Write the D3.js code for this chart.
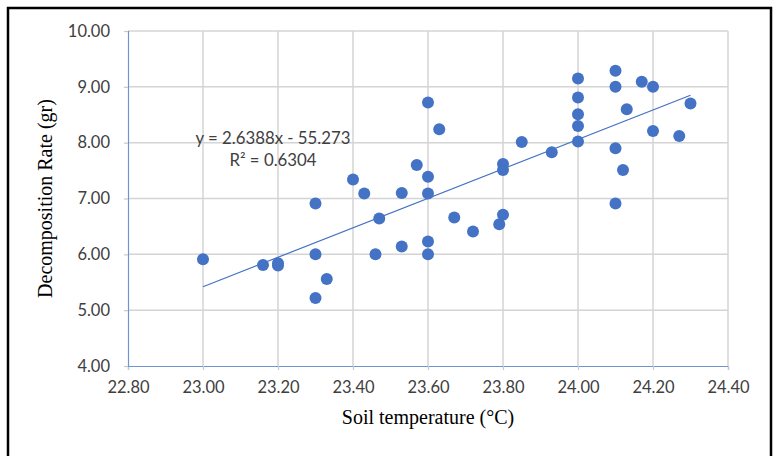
<!DOCTYPE html>
<html>
<head>
<meta charset="utf-8">
<script src="https://cdn.jsdelivr.net/npm/d3@7"></script>
<style>
  body { margin: 0; background: #fff; }
  svg { display: block; }
</style>
</head>
<body>
<svg id="chart" width="775" height="456"></svg>
<script>
// Soil temperature (°C) of each sample
const soilTemp = [
  23.00, 23.16, 23.20, 23.20, 23.30, 23.30, 23.33, 23.30, 23.40, 23.43,
  23.46, 23.47, 23.53, 23.53, 23.57, 23.60, 23.60, 23.60, 23.60, 23.60,
  23.63, 23.67, 23.72, 23.79, 23.80, 23.80, 23.80, 23.85, 23.93, 24.00,
  24.00, 24.00, 24.00, 24.00, 24.10, 24.10, 24.10, 24.10, 24.12, 24.13,
  24.17, 24.20, 24.20, 24.27, 24.30
];
// Decomposition rate (gr) of each sample
const decompRate = [
  5.91, 5.81, 5.84, 5.80, 6.91, 6.00, 5.56, 5.22, 7.34, 7.09,
  6.00, 6.64, 7.10, 6.14, 7.60, 8.72, 7.39, 7.09, 6.23, 6.00,
  8.24, 6.66, 6.41, 6.54, 6.71, 7.62, 7.51, 8.01, 7.83, 9.15,
  8.81, 8.51, 8.30, 8.02, 9.29, 9.00, 7.90, 6.91, 7.51, 8.60,
  9.09, 9.00, 8.21, 8.12, 8.70
];
const xTicks = [22.8, 23.0, 23.2, 23.4, 23.6, 23.8, 24.0, 24.2, 24.4];
const yTicks = [4, 5, 6, 7, 8, 9, 10];

// Linear trendline: y = slope * x + intercept
const slope = 2.6388;
const intercept = -55.273;
const rSquared = 0.6304;

const svg = d3.select("#chart");
const blue = "#4472C4";
const tickFont = "Lato, 'Open Sans', sans-serif";
const titleFont = "'Liberation Serif', 'Times New Roman', serif";

const plot = { left: 128, right: 728, top: 31, bottom: 366 };

const x = d3.scaleLinear().domain([22.8, 24.4]).range([plot.left, plot.right]);
const y = d3.scaleLinear().domain([4, 10]).range([plot.bottom, plot.top]);

// outer frame
svg.append("rect")
  .attr("x", 8).attr("y", 8)
  .attr("width", 763).attr("height", 470)
  .attr("fill", "none").attr("stroke", "#000").attr("stroke-width", 2.5);

// gridlines
const grid = svg.append("g").attr("stroke", "#d4d4d4").attr("stroke-width", 1.5);
grid.selectAll("line.v").data(xTicks.slice(1)).join("line")
  .attr("x1", d => x(d)).attr("x2", d => x(d))
  .attr("y1", plot.top).attr("y2", plot.bottom);
grid.selectAll("line.h").data(yTicks.slice(1)).join("line")
  .attr("x1", plot.left).attr("x2", plot.right)
  .attr("y1", d => y(d)).attr("y2", d => y(d));

// axes
const xAxis = d3.axisBottom(x).tickValues(xTicks).tickFormat(d3.format(".2f"))
  .tickSize(4).tickPadding(11);
const yAxis = d3.axisLeft(y).tickValues(yTicks).tickFormat(d3.format(".2f"))
  .tickSize(4).tickPadding(14);

const gx = svg.append("g").attr("transform", `translate(0,${plot.bottom})`).call(xAxis);
const gy = svg.append("g").attr("transform", `translate(${plot.left},0)`).call(yAxis);

[gx, gy].forEach(g => {
  g.select(".domain").attr("stroke", "#6f94d2").attr("stroke-width", 1.2);
  g.selectAll(".tick line").attr("stroke", "#c8c8c8").attr("stroke-width", 1.2);
  g.selectAll(".tick text")
    .attr("fill", "#404040")
    .style("font-family", tickFont)
    .style("font-size", "16.5px");
});

// trendline across the observed temperature range
const [xMin, xMax] = d3.extent(soilTemp);
svg.append("line")
  .attr("x1", x(xMin)).attr("y1", y(slope * xMin + intercept))
  .attr("x2", x(xMax)).attr("y2", y(slope * xMax + intercept))
  .attr("stroke", blue).attr("stroke-width", 1.2);

// samples
svg.append("g").selectAll("circle")
  .data(soilTemp.map((t, i) => [t, decompRate[i]]))
  .join("circle")
  .attr("cx", d => x(d[0]))
  .attr("cy", d => y(d[1]))
  .attr("r", 6)
  .attr("fill", blue);

// trendline equation
const eq = svg.append("g")
  .style("font-family", tickFont)
  .style("font-size", "16.8px")
  .attr("fill", "#404040")
  .attr("text-anchor", "middle");
eq.append("text").attr("x", 273).attr("y", 144)
  .text(`y = ${slope}x - ${Math.abs(intercept)}`);
eq.append("text").attr("x", 273).attr("y", 166)
  .text(`R² = ${rSquared}`);

// axis titles
svg.append("text")
  .attr("x", (plot.left + plot.right) / 2).attr("y", 424)
  .attr("text-anchor", "middle")
  .style("font-family", titleFont).style("font-size", "20px")
  .attr("fill", "#000")
  .text("Soil temperature (°C)");

svg.append("text")
  .attr("transform", `translate(52,${(plot.top + plot.bottom) / 2}) rotate(-90)`)
  .attr("text-anchor", "middle")
  .style("font-family", titleFont).style("font-size", "20px")
  .attr("fill", "#000")
  .text("Decomposition Rate (gr)");
</script>
</body>
</html>
